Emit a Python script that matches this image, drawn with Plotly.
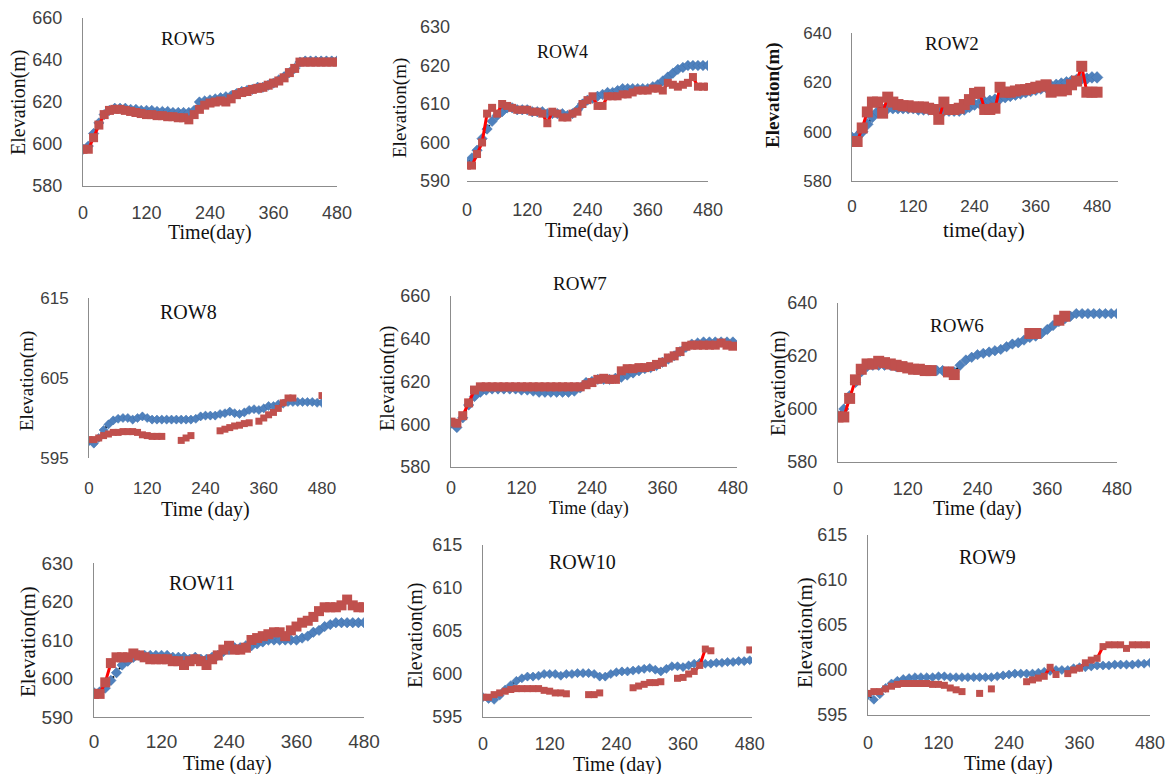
import plotly.graph_objects as go

# ---------------- data ----------------
DAYS = [0, 10, 20, 30, 40, 50, 60, 70, 80, 90,
        100, 110, 120, 130, 140, 150, 160, 170, 180, 190,
        200, 210, 220, 230, 240, 250, 260, 270, 280, 290,
        300, 310, 320, 330, 340, 350, 360, 370, 380, 390,
        400, 410, 420, 430, 440, 450, 460, 470, 480]
X_TICKS = [0, 120, 240, 360, 480]

ROW5_SIM = [597.5, 599, 605, 610, 614, 616, 617, 617, 617, 616.5,
            616.5, 616, 616, 616, 615.5, 615.5, 615.5, 615, 615, 615,
            615, 616, 620, 620.5, 621, 621.5, 622, 622.5, 623, 624,
            625, 625.5, 626, 627, 627, 628, 629, 630.5, 632, 634,
            636, 639, 639.5, 639.5, 639.5, 639.5, 639.5, 639.5, 639.5]
ROW5_OBS = [597.5, 597.5, 603, 609, 614, 616, 616.5, 616.5, 616, 615.5,
            615, 614.5, 614, 614, 613.5, 613.5, 613, 613, 612.5, 612.5,
            611.5, 614, 616.5, 618.5, 619.5, 620, 620.5, 620, 621.5, 623.5,
            624.5, 625, 626, 626.5, 627, 628, 629, 630, 631.5, 634,
            636, 639, 639, 639, 639, 639, 639, 639, 639]

ROW4_SIM = [594.5, 596, 598, 601, 603.5, 605.5, 607, 608, 609, 609,
            608.5, 608.5, 608.5, 608, 608, 608, 607.5, 607.5, 607.5, 607.5,
            607, 607.5, 608.5, 610, 611, 611.5, 612, 612.5, 613, 613,
            613.5, 614, 614, 614, 614, 614, 614, 614.5, 615, 616,
            617, 618, 619, 619.5, 620, 620, 620, 620, 620]
ROW4_OBS = [594, 594, 597, 600, 607.5, 609, 607.5, 610, 609.5, 609,
            608.5, 608.5, 608.5, 608, 608, 607.5, 605, 608, 607.5, 606.5,
            606.5, 607.5, 608, 610, 611, 612, 609.5, 609.5, 612, 612,
            612, 612.5, 612.5, 613, 613.5, 613.5, 613.5, 614, 614, 613.5,
            615.5, 615, 614.5, 615, 615.5, 617, 614.5, 614.5, 614.5]

ROW2_SIM = [597.5, 598, 600, 603, 606, 608, 609, 609.5, 609.5, 609.5,
            609.5, 609.5, 609.5, 609, 609, 609, 609, 608.5, 608.5, 608.5,
            608.5, 608.5, 609, 610, 611, 611.5, 612, 612.5, 613, 613.5,
            614, 614.5, 615, 615.5, 616, 616.5, 617, 617.5, 618, 618.5,
            619, 619.5, 620, 620.5, 621, 621.5, 621.5, 622, 622]
ROW2_OBS = [596, 596, 601.5, 608, 612, 612, 607.5, 614, 612, 611,
            610.5, 610.5, 610, 610, 610, 609.5, 609, 605, 612, 609,
            609, 609.5, 611, 613, 615.5, 616, 609, 609, 609.5, 618,
            616, 616, 616.5, 617, 617, 617.5, 618, 618.5, 619, 616,
            617, 616.5, 617, 619, 620.5, 626.5, 616, 616, 616]

ROW8_SIM = [597.1, 596.8, 597.5, 598.5, 599.2, 599.7, 599.9, 600, 600, 599.8,
            600, 600.2, 600, 599.8, 599.8, 599.8, 599.8, 599.8, 599.8, 599.8,
            599.8, 599.8, 599.9, 600.2, 600.3, 600.3, 600.3, 600.5, 600.6, 600.8,
            600.6, 600.5, 600.7, 601, 601.1, 601, 601.2, 601.5, 601.5, 601.7,
            601.8, 602, 602, 602, 602, 602, 602, 601.9, 601.9]
ROW8_OBS = [597.3, 597.3, 597.5, 597.8, 598, 598.2, 598.2, 598.3, 598.3, 598.3,
            598.2, 597.9, 597.8, 597.7, 597.7, 597.7, None, None, None, 597.2,
            597.5, 597.8, None, None, None, None, None, 598.4, 598.6, 598.8,
            599, 599.1, 599.3, 599.4, None, 599.6, 600, 600.4, 600.7, 601.2,
            601.9, 602.5, 602.5, None, None, None, None, None, 602.8]

ROW7_SIM = [600.5, 598.5, 603, 609, 613, 615, 616, 616.5, 616.5, 616.5,
            616.5, 616.5, 616, 616, 615.5, 615, 615, 615, 615, 615,
            615, 615.5, 617, 619.5, 620, 621, 621, 621, 621.5, 622,
            623, 624, 625, 626, 626.5, 627.5, 629, 630.5, 632, 634,
            636, 637.5, 638, 638.5, 638.5, 638.5, 638.5, 638.5, 638.5]
ROW7_OBS = [601, 600.5, 604, 610, 616, 617.5, 617.5, 617.5, 617.5, 617.5,
            617.5, 617.5, 617.5, 617.5, 617.5, 617.5, 617.5, 617.5, 617.5, 617.5,
            617.5, 617.5, 617.5, 618.5, 619.5, 621, 621.5, 621, 621, 625,
            626, 626, 626.5, 626.5, 627, 628, 629, 631, 632, 634,
            636.5, 637, 637, 637, 637, 637, 638, 637, 636.5]

ROW6_SIM = [597.5, 600, 605, 610, 614, 616, 616.5, 616.5, 616.5, 616.5,
            616, 616, 615.5, 615, 615, 614.5, 614.5, 614.5, 614.5, 614,
            614, 616.5, 618.5, 619.5, 620.5, 621, 621.5, 622, 622.5, 623.5,
            624.5, 625, 626, 627, 627.5, 628.5, 630, 631.5, 633, 634,
            635, 636, 636, 636, 636, 636, 636, 636, 636]
ROW6_OBS = [597, 597, 604, 611, 615, 617, 617, 618, 617.5, 617,
            616.5, 616, 615.5, 615, 615, 614.5, 614.5, None, None, 614,
            613, None, None, None, None, None, None, None, None, None,
            None, None, None, 628.5, 628.5, None, None, None, 633.5, 635,
            None, None, None, None, None, None, None, None, None]

ROW11_SIM = [596.3, 596.5, 597.5, 599.5, 601.5, 603.5, 604.5, 605.5, 606, 606,
             606, 606, 606, 606, 605.5, 605.5, 605.5, 605, 605.5, 605,
             605, 605.5, 606, 607, 607.5, 608, 608, 608.5, 608.5, 609,
             609.5, 610, 610, 610, 610, 610, 610, 610.5, 611, 612,
             612.5, 613.5, 614, 614.5, 614.5, 614.5, 614.5, 614.5, 614.5]
ROW11_OBS = [596, 596, 599, 604, 605.5, 605.5, 605.5, 606.5, 606, 605.5,
             605, 605, 605, 605, 604.5, 604.5, 603.5, 604.5, 605, 604.5,
             603.5, 605, 606, 607.5, 608.5, 607.5, 607.5, 608, 610, 610.5,
             611, 611.5, 612, 612, 611, 612.5, 613.5, 614.5, 615, 616,
             617.5, 618.5, 618.5, 618.5, 619, 620.5, 619, 618.5, 618.5]

ROW10_SIM = [597.3, 597.1, 597, 597.5, 598.2, 598.7, 599.2, 599.5, 599.7, 599.7,
             599.8, 600, 600, 600, 599.8, 600, 600, 600.1, 600.1, 600.1,
             600, 599.7, 599.7, 600, 600.2, 600.3, 600.3, 600.4, 600.5, 600.6,
             600.7, 600.5, 600.3, 600.6, 600.9, 600.9, 600.8, 601, 601.2, 601.3,
             601.2, 601.2, 601.3, 601.3, 601.4, 601.4, 601.5, 601.5, 601.6]
ROW10_OBS = [597.3, 597.3, 597.6, 597.8, 598, 598.2, 598.3, 598.3, 598.3, 598.3,
             598.3, 598.1, 598, 597.8, 597.8, 597.7, None, None, None, 597.6,
             597.6, 597.8, None, None, None, None, None, 598.4, 598.6, 598.8,
             599, 599, 599.1, None, None, 599.5, 599.6, 600, 600.3, 601,
             602.9, 602.7, None, None, None, None, None, None, 602.8]

ROW9_SIM = [597.2, 596.7, 597.3, 598, 598.5, 598.8, 599, 599.1, 599.2, 599.2,
            599.2, 599.2, 599.3, 599.3, 599.2, 599.2, 599.2, 599.2, 599.2, 599.2,
            599.2, 599.2, 599.3, 599.4, 599.5, 599.6, 599.6, 599.6, 599.6, 599.7,
            599.8, 599.9, 600, 600, 600, 600.2, 600.3, 600.3, 600.4, 600.5,
            600.5, 600.5, 600.6, 600.6, 600.6, 600.6, 600.7, 600.7, 600.8]
ROW9_OBS = [597.4, 597.6, 597.6, 597.9, 598.2, 598.4, 598.5, 598.5, 598.5, 598.5,
            598.5, 598.4, 598.4, 598.3, 598, 597.8, 597.6, None, None, 597.4,
            None, 597.9, None, None, None, None, None, 598.7, 598.9, 599.1,
            599.3, 600.3, 599.5, None, 599.6, 600, 600.2, 600.8, 601.1, 601.3,
            602.6, 602.8, 602.8, 602.8, 602.4, 602.8, 602.8, 602.8, 602.8]

# ---------------- panel layout (pixels) ----------------
W, H = 1174, 774
SERIF = "Liberation Serif, Times New Roman, serif"
SANS = "Liberation Sans, Arial, sans-serif"

PANELS = [
    dict(title="ROW5", sim=ROW5_SIM, obs=ROW5_OBS, x0=83, x1=337, xmax=480,
         ytop=18, ybot=186, yr=(580, 660), dt=20, xline=True, yline=True, xso=10,
         tf=18, rs=9, bs=8, tpos=(188, 38, 19), xt=("Time(day)", 210, 232, 20),
         yt=("Elevation(m)", 18, 102, 20)),
    dict(title="ROW4", sim=ROW4_SIM, obs=ROW4_OBS, x0=467, x1=708, xmax=480,
         ytop=27, ybot=181, yr=(590, 630), dt=10, xline=True, yline=False, xso=12,
         tf=18, rs=8, bs=8, tpos=(562, 52, 18), xt=("Time(day)", 587, 231, 20),
         yt=("Elevation(m)", 400, 108, 19)),
    dict(title="ROW2", sim=ROW2_SIM, obs=ROW2_OBS, x0=852, x1=1118, xmax=521,
         ytop=33, ybot=181, yr=(580, 640), dt=20, xline=True, yline=True, xso=10,
         tf=17, rs=11, bs=9, tpos=(952, 43, 19), xt=("time(day)", 984, 230, 21),
         yt=("<b>Elevation(m)</b>", 773, 95, 19)),
    dict(title="ROW8", sim=ROW8_SIM, obs=ROW8_OBS, x0=89, x1=322, xmax=480,
         ytop=298, ybot=458, yr=(595, 615), dt=10, xline=False, yline=True, xso=18,
         tf=17, rs=7, bs=7, tpos=(189, 312, 20), xt=("Time (day)", 205, 509, 20),
         yt=("Elevation(m)", 27, 381, 19)),
    dict(title="ROW7", sim=ROW7_SIM, obs=ROW7_OBS, x0=451, x1=737, xmax=487,
         ytop=296, ybot=467, yr=(580, 660), dt=20, xline=True, yline=True, xso=4,
         tf=18, rs=9, bs=8, tpos=(580, 283, 19), xt=("Time (day)", 589, 508, 18),
         yt=("Elevation(m)", 387, 378, 20)),
    dict(title="ROW6", sim=ROW6_SIM, obs=ROW6_OBS, x0=838, x1=1117, xmax=480,
         ytop=303, ybot=462, yr=(580, 640), dt=20, xline=True, yline=True, xso=10,
         tf=18, rs=11, bs=8, tpos=(957, 325, 19), xt=("Time (day)", 977, 508, 20),
         yt=("Elevation(m)", 778, 383, 20)),
    dict(title="ROW11", sim=ROW11_SIM, obs=ROW11_OBS, x0=94, x1=364, xmax=480,
         ytop=563, ybot=717, yr=(590, 630), dt=10, xline=True, yline=True, xso=7,
         tf=19, rs=10, bs=8, tpos=(202, 583, 20), xt=("Time (day)", 227, 763, 20),
         yt=("Elevation(m)", 28, 642, 21)),
    dict(title="ROW10", sim=ROW10_SIM, obs=ROW10_OBS, x0=483, x1=752, xmax=484,
         ytop=545, ybot=717, yr=(595, 615), dt=5, xline=True, yline=True, xso=10,
         tf=18, rs=7, bs=7, tpos=(582, 562, 20), xt=("Time (day)", 617, 764, 20),
         yt=("Elevation(m)", 415, 635, 20)),
    dict(title="ROW9", sim=ROW9_SIM, obs=ROW9_OBS, x0=868, x1=1150, xmax=480,
         ytop=535, ybot=715, yr=(595, 615), dt=5, xline=True, yline=True, xso=11,
         tf=18, rs=7, bs=7, tpos=(987, 557, 20), xt=("Time (day)", 1008, 763, 20),
         yt=("Elevation(m)", 805, 633, 21)),
]

fig = go.Figure()
annotations = []
layout = {}

for i, p in enumerate(PANELS, start=1):
    xa = "x" if i == 1 else f"x{i}"
    ya = "y" if i == 1 else f"y{i}"
    # simulated: black dashed line + blue diamonds
    fig.add_trace(go.Scatter(x=DAYS, y=p["sim"], mode="lines",
                             line=dict(color="black", width=2, dash="dash"),
                             xaxis=xa, yaxis=ya, showlegend=False, hoverinfo="skip"))
    fig.add_trace(go.Scatter(x=DAYS, y=p["sim"], mode="markers",
                             marker=dict(symbol="diamond", size=p["bs"], color="#4F81BD",
                                         line=dict(color="#3C6EAA", width=0.5)),
                             xaxis=xa, yaxis=ya, showlegend=False))
    # observed: red line + red squares
    fig.add_trace(go.Scatter(x=DAYS, y=p["obs"], mode="lines+markers", connectgaps=False,
                             line=dict(color="#FF0000", width=3),
                             marker=dict(symbol="square", size=p["rs"], color="#C0504D",
                                         line=dict(width=0)),
                             xaxis=xa, yaxis=ya, showlegend=False))

    layout["xaxis" if i == 1 else f"xaxis{i}"] = dict(
        domain=[p["x0"] / W, p["x1"] / W], range=[0, p["xmax"]], anchor=ya,
        tickvals=X_TICKS, showgrid=False, zeroline=False, ticks="",
        showline=p["xline"], linecolor="#8C8C8C", linewidth=1,
        tickfont=dict(family=SANS, size=p["tf"], color="#404040"),
        ticklabelstandoff=p["xso"], automargin=False, fixedrange=True)
    layout["yaxis" if i == 1 else f"yaxis{i}"] = dict(
        domain=[1 - p["ybot"] / H, 1 - p["ytop"] / H], range=list(p["yr"]), anchor=xa,
        tick0=p["yr"][0], dtick=p["dt"], showgrid=False, zeroline=False, ticks="",
        showline=p["yline"], linecolor="#8C8C8C", linewidth=1,
        tickfont=dict(family=SANS, size=p["tf"], color="#404040"),
        ticklabelstandoff=16, automargin=False, fixedrange=True)

    tx, ty, tsz = p["tpos"]
    annotations.append(dict(text=p["title"], x=tx / W, y=1 - ty / H, xref="paper", yref="paper",
                            showarrow=False, xanchor="center", yanchor="middle",
                            font=dict(family=SERIF, size=tsz, color="#111111")))
    t, ax, ay, asz = p["xt"]
    annotations.append(dict(text=t, x=ax / W, y=1 - ay / H, xref="paper", yref="paper",
                            showarrow=False, xanchor="center", yanchor="middle",
                            font=dict(family=SERIF, size=asz, color="#111111")))
    t, ax, ay, asz = p["yt"]
    annotations.append(dict(text=t, x=ax / W, y=1 - ay / H, xref="paper", yref="paper",
                            showarrow=False, xanchor="center", yanchor="middle", textangle=-90,
                            font=dict(family=SERIF, size=asz, color="#111111")))

fig.update_layout(width=W, height=H, margin=dict(l=0, r=0, t=0, b=0), autosize=False,
                  paper_bgcolor="white", plot_bgcolor="white",
                  annotations=annotations, showlegend=False, **layout)

fig.write_html("out.html", config={"displayModeBar": False},
               post_script="document.body.style.margin='0';document.body.style.padding='0';")
